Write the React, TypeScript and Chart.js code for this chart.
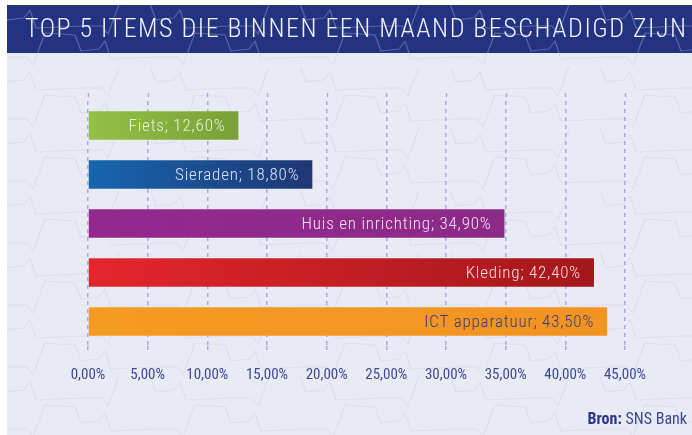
import React, { useEffect, useRef } from "react";
import { Chart, registerables } from "chart.js";

Chart.register(...registerables);

const titleText = "TOP 5 ITEMS DIE BINNEN EEN MAAND BESCHADIGD ZIJN";
const categories = ["Fiets", "Sieraden", "Huis en inrichting", "Kleding", "ICT apparatuur"];
const values = [12.6, 18.8, 34.9, 42.4, 43.5];
const colorStart = ["#92c146", "#1766ae", "#94288f", "#e4262b", "#f59a23"];
const colorEnd = ["#79a137", "#1f3674", "#8c2a88", "#a3171b", "#f39322"];
const labelColors = ["#e9eede", "#dce1f1", "#f1e4f0", "#f4dede", "#3b3d78"];
const tickValues = [0, 5, 10, 15, 20, 25, 30, 35, 40, 45];
const sourceBold = "Bron:";
const sourceText = " SNS Bank";

const FONT = "'Roboto Condensed', 'Liberation Sans Narrow', sans-serif";
const fmt = (v: number) => v.toFixed(2).replace(".", ",") + "%";

function makePattern(ctx: CanvasRenderingContext2D, color: string) {
  const t = document.createElement("canvas");
  t.width = 150;
  t.height = 62;
  const c = t.getContext("2d")!;
  c.strokeStyle = color;
  c.lineWidth = 1.2;
  c.lineJoin = "round";
  const wave = (dx: number, base: number) => {
    const pts = [
      [0, 0], [20, 0], [26, 8], [38, -24], [68, -22], [74, -6], [92, -8], [98, -16], [104, 2], [150, 0],
    ];
    for (const off of [-150, 0, 150]) {
      c.beginPath();
      pts.forEach(([x, y], i) => {
        const px = x + dx + off;
        const py = base + y;
        if (i === 0) c.moveTo(px, py);
        else c.lineTo(px, py);
      });
      c.stroke();
    }
  };
  wave(0, 52);
  wave(75, 21);
  return ctx.createPattern(t, "repeat");
}

export default function App() {
  const ref = useRef<HTMLCanvasElement | null>(null);
  useEffect(() => {
    document.body.style.margin = "0";
    document.body.style.background = "#ffffff";
    const canvas = ref.current!;
    const decor = {
      id: "decor",
      beforeDraw(chart: any) {
        const ctx = chart.ctx as CanvasRenderingContext2D;
        const W = chart.width;
        const H = chart.height;
        ctx.save();
        ctx.fillStyle = "#e9ebf4";
        ctx.fillRect(0, 0, W, H);
        const p1 = makePattern(ctx, "#dcdfee");
        if (p1) {
          ctx.fillStyle = p1;
          ctx.fillRect(0, 48, W, H - 48);
        }
        ctx.fillStyle = "#243381";
        ctx.fillRect(0, 0, W, 48);
        const p2 = makePattern(ctx, "rgba(150,165,215,0.45)");
        if (p2) {
          ctx.fillStyle = p2;
          ctx.fillRect(0, 0, W, 48);
        }
        ctx.fillStyle = "#f2f3fa";
        ctx.font = "300 26px " + FONT;
        ctx.textAlign = "left";
        ctx.textBaseline = "middle";
        (ctx as any).letterSpacing = "0px";
        const w0 = ctx.measureText(titleText).width;
        const target = 661;
        const sp = (target - w0) / (titleText.length - 1);
        (ctx as any).letterSpacing = sp.toFixed(2) + "px";
        ctx.fillText(titleText, 18, 25);
        (ctx as any).letterSpacing = "0px";
        ctx.restore();
      },
      beforeDatasetsDraw(chart: any) {
        const ctx = chart.ctx as CanvasRenderingContext2D;
        const xs = chart.scales.x;
        const top = chart.chartArea.top;
        ctx.save();
        ctx.strokeStyle = "#a9abdb";
        ctx.lineWidth = 1.5;
        ctx.setLineDash([4, 4]);
        xs.ticks.forEach((t: any) => {
          const x = Math.round(xs.getPixelForValue(t.value)) + 0.5;
          ctx.beginPath();
          ctx.moveTo(x, top - 8);
          ctx.lineTo(x, top);
          ctx.stroke();
        });
        ctx.restore();
      },
      afterDatasetsDraw(chart: any) {
        const ctx = chart.ctx as CanvasRenderingContext2D;
        const meta = chart.getDatasetMeta(0);
        ctx.save();
        ctx.font = "300 17px " + FONT;
        (ctx as any).letterSpacing = "0.8px";
        ctx.textAlign = "right";
        ctx.textBaseline = "middle";
        meta.data.forEach((el: any, i: number) => {
          ctx.fillStyle = labelColors[i];
          ctx.fillText(categories[i] + "; " + fmt(values[i]), el.x - 13, el.y + 1);
        });
        (ctx as any).letterSpacing = "0px";
        ctx.restore();
      },
      afterDraw(chart: any) {
        const ctx = chart.ctx as CanvasRenderingContext2D;
        ctx.save();
        ctx.textBaseline = "middle";
        ctx.textAlign = "left";
        ctx.font = "16px " + FONT;
        const wNorm = ctx.measureText(sourceText).width;
        ctx.font = "bold 16px " + FONT;
        const wBold = ctx.measureText(sourceBold).width;
        const right = 680;
        const y = 415;
        ctx.fillStyle = "#2b3686";
        ctx.fillText(sourceBold, right - wNorm - wBold, y);
        ctx.font = "16px " + FONT;
        ctx.fillStyle = "#3b4790";
        ctx.fillText(sourceText, right - wNorm, y);
        ctx.restore();
      },
    };
    const chart = new Chart(canvas, {
      type: "bar",
      data: {
        labels: categories,
        datasets: [
          {
            data: values,
            backgroundColor: (c: any) => {
              const ch = c.chart;
              const i = c.dataIndex;
              if (!ch.chartArea || i === undefined) return colorStart[i ?? 0];
              const xs = ch.scales.x;
              const x0 = xs.getPixelForValue(0);
              const x1 = xs.getPixelForValue(values[i]);
              const g = ch.ctx.createLinearGradient(x0, 0, x1, 0);
              g.addColorStop(0, colorStart[i]);
              g.addColorStop(1, colorEnd[i]);
              return g;
            },
            borderWidth: 0,
            barPercentage: 0.58,
            categoryPercentage: 1,
          },
        ],
      },
      options: {
        indexAxis: "y",
        responsive: false,
        animation: false,
        layout: { padding: { left: 81, right: 67, top: 96, bottom: 37 } },
        plugins: { legend: { display: false }, tooltip: { enabled: false }, title: { display: false } },
        scales: {
          y: { display: false },
          x: {
            min: 0,
            max: 45,
            border: { display: false, dash: [4, 4] },
            afterBuildTicks: (axis: any) => {
              axis.ticks = tickValues.map((v) => ({ value: v }));
            },
            grid: {
              color: "#a9abdb",
              lineWidth: 1.5,
              tickLength: 6,
              tickColor: "#a9abdb",
              tickBorderDash: [4, 4],
            },
            ticks: {
              padding: 14,
              color: "#3d4994",
              font: { family: FONT, size: 15 },
              callback: (v: any) => fmt(Number(v)),
            },
          },
        },
      } as any,
      plugins: [decor],
    });
    return () => chart.destroy();
  }, []);
  return (
    <div style={{ width: 692, height: 435, background: "#ffffff", position: "relative" }}>
      <div style={{ position: "absolute", left: 7, top: 5, width: 685, height: 430 }}>
        <canvas ref={ref} width={685} height={430} style={{ width: 685, height: 430, display: "block" }} />
      </div>
    </div>
  );
}
